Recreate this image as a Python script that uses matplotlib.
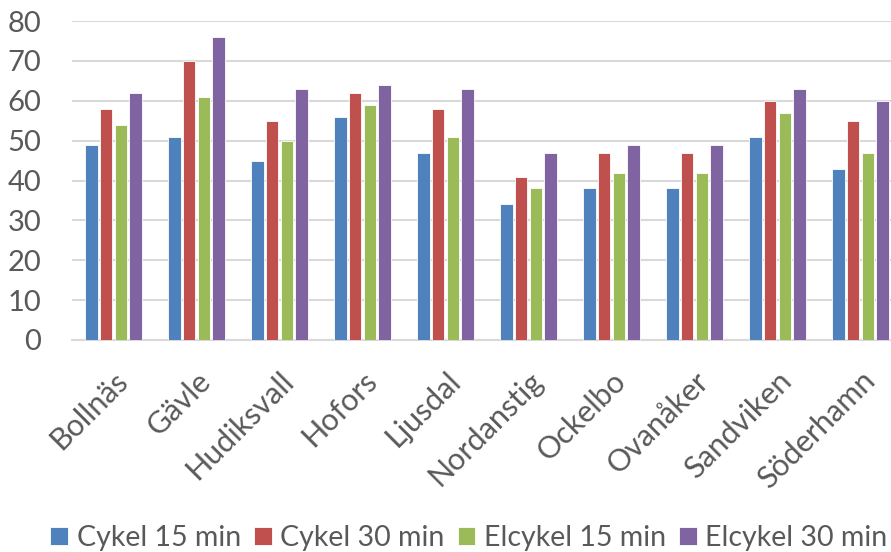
import numpy as np
import matplotlib.pyplot as plt

# kommuner och andel (%) per färdsätt
kommuner = ["Bollnäs", "Gävle", "Hudiksvall", "Hofors", "Ljusdal",
            "Nordanstig", "Ockelbo", "Ovanåker", "Sandviken", "Söderhamn"]
cykel_15 = [49, 51, 45, 56, 47, 34, 38, 38, 51, 43]
cykel_30 = [58, 70, 55, 62, 58, 41, 47, 47, 60, 55]
elcykel_15 = [54, 61, 50, 59, 51, 38, 42, 42, 57, 47]
elcykel_30 = [62, 76, 63, 64, 63, 47, 49, 49, 63, 60]

serier = ["Cykel 15 min", "Cykel 30 min", "Elcykel 15 min", "Elcykel 30 min"]
farger = ["#4F81BD", "#C0504D", "#9BBB59", "#8064A2"]
textfarg = "#595959"

plt.rcParams["font.family"] = ["Lato", "DejaVu Sans"]

fig = plt.figure(figsize=(8.91, 5.52), dpi=100)
# axeln går utanför högerkanten, som i originalet
ax = fig.add_axes([72 / 891, 1 - 340 / 552, 830 / 891, 319 / 552])

x = np.arange(len(kommuner))
steg = 0.18
bredd = 0.155
for i, (varden, namn, farg) in enumerate(zip([cykel_15, cykel_30, elcykel_15, elcykel_30], serier, farger)):
    ax.bar(x + (i - 1.5) * steg, varden, bredd, color=farg, label=namn,
           edgecolor="white", linewidth=0.6, zorder=3)

ax.set_xlim(-0.5, len(kommuner) - 0.5)
ax.set_ylim(0, 80)
ax.set_yticks(range(0, 81, 10))
ax.grid(axis="y", color="#D9D9D9", linewidth=1.5, zorder=0)
for s in ["top", "right", "left"]:
    ax.spines[s].set_visible(False)
ax.spines["bottom"].set_color("#D9D9D9")
ax.spines["bottom"].set_linewidth(1.5)

ax.set_xticks(x)
ax.set_xticklabels(kommuner, rotation=45, ha="right", rotation_mode="anchor")
ax.tick_params(axis="both", length=0, labelsize=21, colors=textfarg)
ax.tick_params(axis="x", labelsize=22, pad=19)
ax.tick_params(axis="y", pad=22)

ax.legend(loc="center", bbox_to_anchor=(469 / 891, 1 - 538 / 552), bbox_transform=fig.transFigure,
          ncol=4, frameon=False, fontsize=20.5, labelcolor=textfarg,
          handlelength=0.62, handleheight=0.62, handletextpad=0.31, columnspacing=0.45,
          borderpad=0)

fig.savefig("out.png", dpi=100)
